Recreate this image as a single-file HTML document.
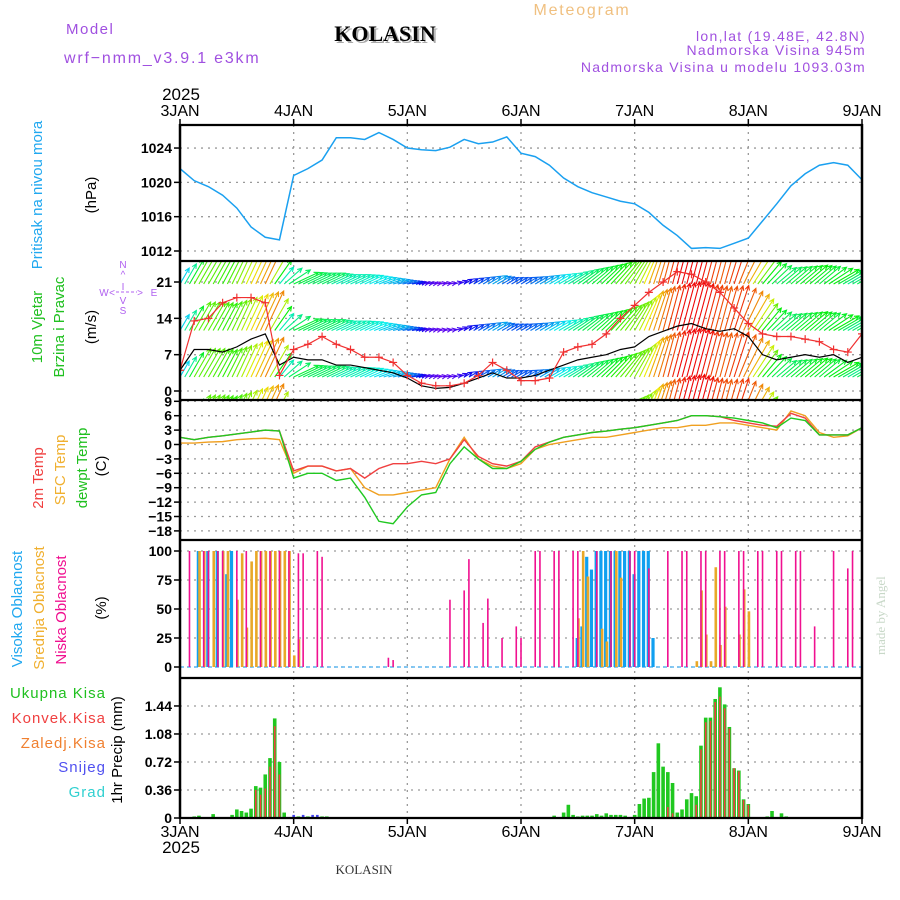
<!DOCTYPE html>
<html><head><meta charset="utf-8"><title>Meteogram KOLASIN</title>
<style>
html,body{margin:0;padding:0;background:#fff;}
svg{display:block;font-family:"Liberation Sans",sans-serif;}
</style></head>
<body>
<svg id="chart" width="900" height="900" viewBox="0 0 900 900">
<rect x="0" y="0" width="900" height="900" fill="#fff"/>
<g id="hdr">
<text x="66" y="34" fill="#a050e0" font-size="15" letter-spacing="1.5">Model</text>
<text x="64" y="63" fill="#a050e0" font-size="16" letter-spacing="1.8">wrf−nmm_v3.9.1  e3km</text>
<text x="387" y="43" fill="#aaa" font-size="22" font-weight="bold" font-family="Liberation Serif,serif" text-anchor="middle">KOLASIN</text>
<text x="385" y="41" fill="#000" font-size="22" font-weight="bold" font-family="Liberation Serif,serif" text-anchor="middle">KOLASIN</text>
<text x="582" y="15" fill="#f0c080" font-size="16" letter-spacing="1.8" text-anchor="middle">Meteogram</text>
<text x="866" y="41" fill="#a050e0" font-size="14" letter-spacing="1.3" text-anchor="end">lon,lat (19.48E, 42.8N)</text>
<text x="866" y="55" fill="#a050e0" font-size="14" letter-spacing="1.3" text-anchor="end">Nadmorska Visina 945m</text>
<text x="866" y="72" fill="#a050e0" font-size="14" letter-spacing="1.3" text-anchor="end">Nadmorska Visina u modelu 1093.03m</text>
<text x="181" y="100" font-size="17" text-anchor="middle">2025</text>
<text x="181" y="853" font-size="17" text-anchor="middle">2025</text>
<text x="364" y="874" font-size="13" font-family="Liberation Serif,serif" text-anchor="middle" fill="#333">KOLASIN</text>
<text x="0" y="0" font-size="13" font-family="Liberation Serif,serif" fill="#c8d8c8" transform="translate(885,655) rotate(-90)">made by Angel</text>
</g>
<g id="labels"></g>
<g id="grid"></g>
<g id="marks"></g>
<g id="frame"></g>
</svg>
<script>
// ---------- data (3-hourly unless noted) ----------
const hours3 = [0,3,6,9,12,15,18,21,24,27,30,33,36,39,42,45,48,51,54,57,60,63,66,69,72,75,78,81,84,87,90,93,96,99,102,105,108,111,114,117,120,123,126,129,132,135,138,141,144];
const pressure = [1021.6,1020.2,1019.5,1018.5,1017,1014.8,1013.6,1013.3,1020.8,1021.6,1022.6,1025.2,1025.2,1025,1025.8,1025,1024,1023.8,1023.7,1024.1,1025,1024.5,1024.7,1025.3,1023.4,1023,1022,1020.5,1019.5,1018.8,1018.3,1017.8,1017.5,1016.5,1015,1013.8,1012.3,1012.4,1012.3,1012.9,1013.5,1015.5,1017.5,1019.6,1021,1022,1022.3,1022,1020.3];
const gustSpeed = [4,13.5,14,17,18,18,17,3,8,9,10.5,9,8,6.5,6.5,5.5,3,1.5,1,1,1.5,3,5.5,4,2,2,2.5,7.5,8.5,9,11,14,16.5,19,21,23,22.5,21,19,16,13,11,10.5,10.5,10,9.5,8,7.5,11];
const windSpeed = [4,8,8,7.5,8.5,10,11,5,6.5,6,6,5,5,4.5,4,3.5,2.5,1,0.5,0.7,1.5,2.5,3.5,2.5,2.5,3,4,5,6,6.5,7,8,8.5,10.5,11.5,12.5,13,12,11.5,12,10.5,7,6,6.5,7,6.5,7,5.5,6.5];
const windDir = [60,60,60,62,65,65,65,50,25,25,25,25,25,25,20,15,10,10,10,10,30,30,30,30,30,30,30,30,35,40,45,50,60,70,75,75,75,75,75,72,60,50,40,40,40,40,30,30,30];
const temp2m = [1.5,1.0,1.5,1.8,2.2,2.6,3.0,2.8,-5.5,-4.5,-4.5,-5.5,-5.0,-7.0,-5.0,-4.0,-4.0,-3.5,-4.0,-3.0,1.0,-2.5,-4.0,-4.5,-3.5,-0.5,0.5,1.5,2.0,2.5,2.8,3.2,3.5,4.0,4.5,5.0,6.0,6.0,5.8,5.0,4.5,4.0,3.8,6.5,5.5,2.0,2.0,2.0,3.5];
const tempSfc = [0.3,0.3,0.5,0.6,1.0,1.2,1.3,1.0,-6.0,-4.5,-4.5,-5.5,-5.0,-9.0,-10.5,-10.5,-10.0,-9.5,-9.0,-3.0,1.5,-3.0,-4.5,-5.0,-4.0,-1.0,0.0,0.5,1.0,1.5,1.5,2.0,2.5,3.0,3.5,3.5,4.0,4.0,4.5,4.5,4.0,3.5,3.0,7.0,6.0,2.5,1.5,1.8,3.5];
const tempDew = [1.5,1.0,1.5,1.8,2.2,2.6,3.0,2.8,-7.0,-6.0,-6.0,-7.5,-7.0,-11,-16,-16.5,-13,-10.5,-10,-4,-0.5,-3.0,-5.0,-5.0,-3.5,-1.0,0.5,1.5,2.0,2.5,2.8,3.2,3.5,4.0,4.5,5.0,6.0,6.0,5.8,5.5,5.0,4.5,3.5,5.5,5.0,2.0,2.0,2.0,3.5];
// cloud cover [hour, %]
const highCloud = [[4,100],[6,100],[8,100],[10,80],[11,100],[84,25],[85,35],[86,95],[87,84],[88,100],[89,100],[90,100],[91,100],[92,100],[93,100],[94,100],[95,100],[96,80],[97,100],[98,100],[99,100],[100,25]];
const midCloud = [[4,100],[5,100],[7,100],[9,100],[10,100],[12,58],[13,98],[14,34],[15,91],[16,100],[17,100],[18,100],[19,100],[20,100],[21,100],[22,100],[23,100],[24,10],[25,24],[84,42],[85,100],[86,78],[89,33],[90,22],[92,100],[93,77],[109,5],[110,66],[111,28],[112,5],[113,86],[114,19],[115,52],[118,28],[119,67],[120,48]];
const lowCloud = [[2,100],[5,100],[6,100],[8,100],[9,100],[12,100],[14,100],[17,100],[19,100],[21,100],[23,100],[25,98],[26,98],[29,100],[30,95],[44,8],[45,6],[57,58],[60,66],[61,93],[64,38],[65,59],[68,25],[71,35],[72,25],[75,100],[76,100],[79,100],[80,100],[83,100],[84,100],[88,100],[91,100],[95,100],[96,100],[99,85],[103,100],[106,100],[107,100],[110,100],[111,100],[114,100],[115,100],[118,100],[119,100],[122,100],[123,100],[126,100],[127,100],[130,100],[131,100],[134,35],[138,100],[141,85],[142,100]];
// precipitation [hour, mm]
const totalPrecip = [[3,0.02],[4,0.03],[5,0.01],[6,0.01],[7,0.05],[11,0.04],[12,0.11],[13,0.09],[14,0.07],[15,0.12],[16,0.41],[17,0.39],[18,0.56],[19,0.77],[20,1.28],[21,0.72],[22,0.07],[23,0.01],[25,0.02],[27,0.02],[30,0.02],[31,0.02],[77,0.01],[78,0.01],[79,0.03],[81,0.07],[82,0.17],[83,0.04],[84,0.02],[85,0.03],[86,0.03],[87,0.03],[88,0.05],[89,0.03],[90,0.06],[91,0.04],[92,0.04],[93,0.04],[94,0.03],[96,0.04],[97,0.18],[98,0.25],[99,0.26],[100,0.59],[101,0.96],[102,0.66],[103,0.59],[104,0.45],[105,0.07],[106,0.11],[107,0.24],[108,0.32],[109,0.28],[110,0.93],[111,1.29],[112,1.29],[113,1.53],[114,1.68],[115,1.46],[116,1.17],[117,0.64],[118,0.61],[119,0.24],[120,0.18],[124,0.02],[125,0.09],[127,0.06],[128,0.02],[135,0.01],[143,0.01]];
const convPrecip = [[16,0.36],[17,0.3],[18,0.38],[19,0.66],[20,1.18],[21,0.56],[101,0.01],[103,0.14],[104,0.06],[109,0.17],[110,0.88],[111,1.23],[112,1.25],[113,1.49],[114,1.56],[115,1.41],[116,1.15],[117,0.64],[118,0.6],[119,0.23],[120,0.17]];
const snowPrecip = [[24,0.04],[26,0.04],[28,0.04],[29,0.04]];
// axis ticks
const dayLabels = ["3JAN","4JAN","5JAN","6JAN","7JAN","8JAN","9JAN"];
const pressTicks = [1012,1016,1020,1024];
const windTicks = [0,7,14,21];
const tempTicks = [9,6,3,0,-3,-6,-9,-12,-15,-18];
const cloudTicks = [0,25,50,75,100];
const precipTicks = [0,0.36,0.72,1.08,1.44];

// ---------- geometry ----------
const X0=180, X1=862;
const xT = t => X0 + t*(X1-X0)/144;
const P = {press:[125,261], wind:[261,400], temp:[400,540], cloud:[540,678], precip:[678,818]};
const yP = p => 251 - (p-1012)*8.58;
const yW = s => 391 - s*5.19;
const yTe = c => 444.5 - c*4.8;
const yC = c => 667 - c*1.16;
const yR = m => 818 - m*77.8;
const NS="http://www.w3.org/2000/svg";
function mk(tag, attrs, parent){const e=document.createElementNS(NS,tag);for(const k in attrs)e.setAttribute(k,attrs[k]);parent.appendChild(e);return e;}
const G=document.getElementById('grid'), M=document.getElementById('marks'), F=document.getElementById('frame'), L=document.getElementById('labels');

// clip paths
const defs=mk('defs',{},document.getElementById('chart'));
for(const k in P){const cp=mk('clipPath',{id:'clip-'+k},defs);mk('rect',{x:X0,y:P[k][0],width:X1-X0,height:P[k][1]-P[k][0]},cp);}

// ---------- grid ----------
const gridStyle={stroke:'#9a9a9a','stroke-width':1.3,'stroke-dasharray':'2,5'};
dayLabels.forEach((d,i)=>{
  const x=xT(i*24);
  if(i>0&&i<6){const ln=mk('line',Object.assign({x1:x,x2:x,y1:125,y2:818},gridStyle),G);
    
    }
  const t1=mk('text',{x:x,y:116,'font-size':16,'text-anchor':'middle'},L);t1.textContent=d;
  
  
  const t2=mk('text',{x:x,y:837,'font-size':16,'text-anchor':'middle'},L);t2.textContent=d;
  
  
});
function yTicks(ticks, fy, fmt, name){
  ticks.forEach(v=>{const y=fy(v);
    const ln=mk('line',Object.assign({x1:X0,x2:X1,y1:y,y2:y},gridStyle),G);
    
    
    mk('line',{x1:X0-6,x2:X0,y1:y,y2:y,stroke:'#000','stroke-width':1.5},F);
    const t=mk('text',{x:X0-8,y:y+5,'font-size':14,'font-weight':'bold','text-anchor':'end'},L);
    t.textContent=fmt(v);
    
    });
}
yTicks(pressTicks,yP,v=>String(v),'pressure');
yTicks(windTicks,yW,v=>String(v),'wind');
yTicks(tempTicks,yTe,v=>(v<0?'−'+(-v):String(v)),'temp');
yTicks(cloudTicks,yC,v=>String(v),'cloud');
yTicks(precipTicks,yR,v=>(v===0?'0':v.toFixed(2)),'precip');

// ---------- left axis labels ----------
function vlabel(txt,x,y,color,size,name){const t=mk('text',{x:0,y:0,fill:color,'font-size':size,'text-anchor':'middle',transform:`translate(${x},${y}) rotate(-90)`},L);t.textContent=txt;
  
  }
vlabel('Pritisak na nivou mora',42,195,'#20a8f0',15,'pressure-axis-title');
vlabel('(hPa)',96,195,'#000',15,'pressure-unit');
vlabel('10m Vjetar',42,327,'#20c020',15,'wind-axis-title');
vlabel('Brzina i Pravac',64,327,'#20c020',15,'wind-axis-subtitle');
vlabel('(m/s)',96,327,'#000',15,'wind-unit');
vlabel('2m Temp',43,478,'#f04040',15,'temp2m-legend');
vlabel('SFC Temp',65,470,'#f0b030',15,'sfc-temp-legend');
vlabel('dewpt Temp',87,468,'#20c020',15,'dewpoint-legend');
vlabel('(C)',106,466,'#000',15,'temp-unit');
vlabel('Visoka Oblacnost',22,609,'#20a8f0',15,'high-cloud-legend');
vlabel('Srednja Oblacnost',44,608,'#f0b030',15,'mid-cloud-legend');
vlabel('Niska Oblacnost',66,610,'#f01090',15,'low-cloud-legend');
vlabel('(%)',106,608,'#000',15,'cloud-unit');
vlabel('1hr Precip (mm)',122,750,'#000',15,'precip-axis-title');
[['Ukupna  Kisa','#20c020',698],['Konvek.Kisa','#f04040',723],['Zaledj.Kisa','#f08030',748],['Snijeg','#5050f0',772],['Grad','#30d0d0',797]].forEach(a=>{
  const t=mk('text',{x:106,y:a[2],fill:a[1],'font-size':15,'letter-spacing':1,'text-anchor':'end'},L);t.textContent=a[0];
  
  });
// compass
const cg=mk('g',{fill:'#b060f0','font-size':10,'text-anchor':'middle'},L);


[['N',123,268],['^',123,278],['I',123,290],['V',123,304],['S',123,314],['W',104,296],['E',154,296],['<',112,296],['>',140,296]].forEach(a=>{const t=mk('text',{x:a[1],y:a[2]},cg);t.textContent=a[0];});
mk('line',{x1:116,x2:137,y1:292,y2:292,stroke:'#b060f0','stroke-dasharray':'3,2'},cg);

// ---------- pressure ----------
const pl=mk('polyline',{points:hours3.map((t,i)=>xT(t)+','+yP(pressure[i])).join(' '),fill:'none',stroke:'#1aa0f0','stroke-width':1.5,'clip-path':'url(#clip-press)'},M);



// ---------- wind ----------
function interp(arr,t){const i=Math.min(Math.floor(t/3),arr.length-2);const f=(t-hours3[i])/3;return arr[i]+(arr[i+1]-arr[i])*f;}
const wg=mk('g',{'clip-path':'url(#clip-wind)','stroke-width':1.1,fill:'none'},M);


const rows=[237,284,330.5,377,423.5];
for(let t=0;t<=144;t++){
  const s=interp(windSpeed,t), a=interp(windDir,t)*Math.PI/180;
  const len=4+3.6*s, dx=Math.cos(a)*len, dy=-Math.sin(a)*len;
  const hue=Math.max(0,Math.min(275,275-s*22));
  const col=`hsl(${hue},95%,48%)`;
  const x=xT(t);
  rows.forEach(b=>{
    const x2=x+dx,y2=b+dy;
    const h1=a+Math.PI-0.45,h2=a+Math.PI+0.45;
    const p=mk('path',{d:`M${x},${b}L${x2},${y2}M${x2+Math.cos(h1)*5},${y2-Math.sin(h1)*5}L${x2},${y2}L${x2+Math.cos(h2)*5},${y2-Math.sin(h2)*5}`,stroke:col},wg);
    
    
  });
}
const bl=mk('polyline',{points:hours3.map((t,i)=>xT(t)+','+yW(windSpeed[i])).join(' '),fill:'none',stroke:'#000','stroke-width':1.2,'clip-path':'url(#clip-wind)'},M);


const rl=mk('polyline',{points:hours3.map((t,i)=>xT(t)+','+yW(gustSpeed[i])).join(' '),fill:'none',stroke:'#f03030','stroke-width':1.2,'clip-path':'url(#clip-wind)'},M);


hours3.forEach((t,i)=>{const x=xT(t),y=yW(gustSpeed[i]);
  const c=mk('path',{d:`M${x-4},${y}H${x+4}M${x},${y-4}V${y+4}`,stroke:'#f03030','stroke-width':1.2,'clip-path':'url(#clip-wind)'},M);
  
  });

// ---------- temperature ----------
[[tempSfc,'#f0a020','sfc-temp-line'],[temp2m,'#f04040','temp-2m-line'],[tempDew,'#20c820','dewpoint-line']].forEach(s=>{
  const l=mk('polyline',{points:hours3.map((t,i)=>xT(t)+','+yTe(s[0][i])).join(' '),fill:'none',stroke:s[1],'stroke-width':1.4,'clip-path':'url(#clip-temp)'},M);
  
  });

// ---------- clouds ----------
const base=mk('line',{x1:X0,x2:X1,y1:yC(0),y2:yC(0),stroke:'#60b8f0','stroke-width':1.5,'stroke-dasharray':'4,3'},M);


[[highCloud,'#10a0f0',3.2,-0.6,'high-cloud-bar'],[midCloud,'#e8a828',2.6,0.6,'mid-cloud-bar'],[lowCloud,'#f01090',1.6,0,'low-cloud-bar']].forEach(s=>{
  s[0].forEach(d=>{const x=xT(d[0])+s[3];const y=yC(d[1]);
    const r=mk('rect',{x:x-s[2]/2,y:y,width:s[2],height:yC(0)-y,fill:s[1]},M);
    
    });
});

// ---------- precip ----------
[[totalPrecip,'#20c820',3.6,'total-precip-bar'],[convPrecip,'#f04040',1.6,'convective-precip-bar'],[snowPrecip,'#4040f0',2.6,'snow-precip-bar']].forEach(s=>{
  s[0].forEach(d=>{const x=xT(d[0]);const y=yR(d[1]);
    const r=mk('rect',{x:x-s[2]/2,y:y,width:s[2],height:818-y,fill:s[1]},M);
    
    });
});

// ---------- frame ----------
[125,261,400,540,678,818].forEach(y=>{const l=mk('line',{x1:X0-1,x2:X1+1,y1:y,y2:y,stroke:'#000','stroke-width':2.2},F);
  
  });
const la=mk('line',{x1:X0,x2:X0,y1:124,y2:819,stroke:'#000','stroke-width':2.5},F);


const ra=mk('line',{x1:X1,x2:X1,y1:124,y2:819,stroke:'#000','stroke-width':2.5},F);


dayLabels.forEach((d,i)=>{const x=xT(i*24);mk('line',{x1:x,x2:x,y1:818,y2:824,stroke:'#000','stroke-width':1.5},F);mk('line',{x1:x,x2:x,y1:119,y2:125,stroke:'#000','stroke-width':1.5},F);});
</script>
</body></html>
